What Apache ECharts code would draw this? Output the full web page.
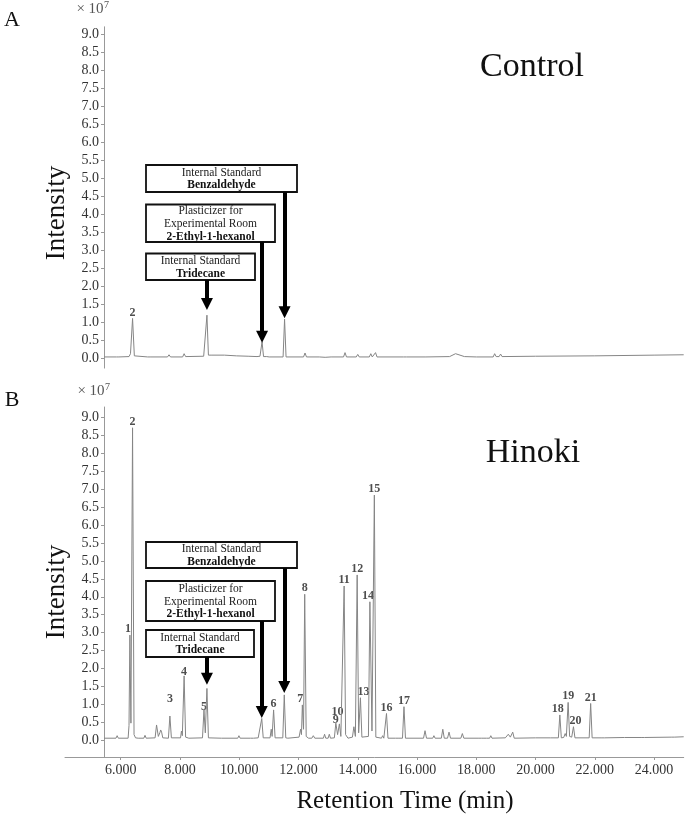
<!DOCTYPE html>
<html>
<head>
<meta charset="utf-8">
<script src="https://cdn.jsdelivr.net/npm/echarts@6/dist/echarts.min.js"></script>
<style>
  html, body { margin: 0; padding: 0; background: #fff; }
  #chart { width: 685px; height: 819px; }
</style>
</head>
<body>
<div id="chart"></div>
<script>
// tick labels (intensity in units of 10^7, retention time in min)
var yTicks = [0, 0.5, 1, 1.5, 2, 2.5, 3, 3.5, 4, 4.5, 5, 5.5, 6, 6.5, 7, 7.5, 8, 8.5, 9];
var xTicks = [6, 8, 10, 12, 14, 16, 18, 20, 22, 24];

// chromatogram: [retention time, intensity x10^7]
var controlTrace = [
  [5.44, 0.03], [5.86, 0.03], [5.9, 0.06], [5.94, 0.03], [6.28, 0.04], [6.33, 0.12], [6.40, 1.10],
  [6.46, 0.06], [6.52, 0.03], [6.91, 0.03], [6.95, 0.06], [6.99, 0.03], [7.58, 0.03], [7.63, 0.09],
  [7.68, 0.03], [8.09, 0.03], [8.14, 0.12], [8.19, 0.04], [8.8, 0.05], [8.86, 0.1], [8.91, 1.19],
  [8.96, 0.08], [9.05, 0.08], [9.5, 0.08], [9.9, 0.06], [10.3, 0.05], [10.6, 0.04], [10.65, 0.08],
  [10.7, 0.05], [10.77, 0.45], [10.82, 0.04], [10.93, 0.04], [10.97, 0.07], [11.01, 0.03],
  [11.48, 0.03], [11.53, 1.08], [11.58, 0.03], [12.17, 0.03], [12.22, 0.14], [12.27, 0.03],
  [12.7, 0.03], [12.9, 0.02], [13.1, 0.03], [13.52, 0.03], [13.57, 0.15], [13.62, 0.03],
  [13.95, 0.03], [14.0, 0.1], [14.05, 0.03], [14.39, 0.03], [14.44, 0.12], [14.49, 0.03],
  [14.55, 0.05], [14.6, 0.15], [14.65, 0.03], [15.55, 0.03], [15.6, 0.08], [15.65, 0.03],
  [16.3, 0.03], [17.1, 0.04], [17.3, 0.12], [17.6, 0.04], [18.0, 0.03], [18.57, 0.03],
  [18.62, 0.12], [18.67, 0.04], [18.77, 0.04], [18.82, 0.11], [18.87, 0.04], [20.0, 0.05],
  [22.0, 0.06], [24.0, 0.08], [25.0, 0.09]
];

var hinokiTrace = [
  [5.44, 0.05], [5.84, 0.05], [5.88, 0.12], [5.92, 0.05], [6.25, 0.05], [6.28, 0.4], [6.31, 2.93],
  [6.345, 0.47], [6.40, 8.72], [6.45, 0.15], [6.5, 0.06], [6.53, 0.05], [6.56, 0.1], [6.59, 0.05],
  [6.78, 0.05], [6.82, 0.13], [6.86, 0.05], [7.16, 0.06], [7.21, 0.42], [7.27, 0.1], [7.32, 0.2],
  [7.35, 0.28], [7.38, 0.22], [7.42, 0.06], [7.61, 0.05], [7.66, 0.67], [7.71, 0.06], [8.02, 0.06],
  [8.05, 0.25], [8.08, 0.12], [8.14, 1.79], [8.19, 0.08], [8.25, 0.1], [8.3, 0.05], [8.76, 0.06],
  [8.81, 0.84], [8.855, 0.2], [8.91, 1.44], [8.96, 0.06], [9.4, 0.05], [9.95, 0.05], [9.99, 0.12],
  [10.03, 0.05], [10.38, 0.05], [10.43, 0.1], [10.48, 0.05], [10.64, 0.06], [10.68, 0.1],
  [10.76, 0.6], [10.81, 0.06], [11.04, 0.06], [11.08, 0.3], [11.11, 0.1], [11.16, 0.84],
  [11.21, 0.06], [11.47, 0.06], [11.52, 1.26], [11.57, 0.06], [11.6, 0.1], [11.64, 0.05],
  [12.02, 0.08], [12.07, 0.3], [12.1, 0.15], [12.13, 0.98], [12.17, 0.3], [12.21, 4.07],
  [12.26, 0.1], [12.3, 0.12], [12.34, 0.05], [12.4, 0.1], [12.45, 0.05], [12.5, 0.12], [12.55, 0.05],
  [12.84, 0.05], [12.88, 0.16], [12.92, 0.05], [13.0, 0.05], [13.04, 0.16], [13.08, 0.05],
  [13.21, 0.06], [13.26, 0.47], [13.32, 0.15], [13.38, 0.45], [13.43, 0.1], [13.49, 0.1],
  [13.54, 4.30], [13.59, 0.15], [13.63, 0.1], [13.67, 0.05], [13.82, 0.08], [13.87, 0.37],
  [13.92, 0.1], [13.98, 4.61], [14.03, 0.2], [14.09, 1.18], [14.14, 0.08], [14.36, 0.1],
  [14.41, 3.86], [14.48, 0.25], [14.56, 6.84], [14.61, 0.08], [14.66, 0.05], [14.8, 0.05],
  [14.84, 0.12], [14.88, 0.05], [14.92, 0.06], [14.97, 0.74], [15.02, 0.05], [15.28, 0.05],
  [15.32, 0.1], [15.36, 0.05], [15.51, 0.05], [15.56, 0.93], [15.61, 0.05], [16.22, 0.05],
  [16.27, 0.26], [16.32, 0.05], [16.53, 0.05], [16.57, 0.12], [16.61, 0.05], [16.82, 0.05],
  [16.87, 0.3], [16.92, 0.05], [17.03, 0.05], [17.08, 0.22], [17.13, 0.05], [17.48, 0.05],
  [17.53, 0.18], [17.58, 0.05], [18.09, 0.05], [18.13, 0.1], [18.17, 0.05], [18.26, 0.05],
  [18.3, 0.09], [18.34, 0.05], [18.45, 0.05], [18.49, 0.12], [18.53, 0.05], [18.98, 0.06],
  [19.08, 0.16], [19.15, 0.08], [19.23, 0.22], [19.28, 0.05], [20.0, 0.06], [20.5, 0.06],
  [20.77, 0.06], [20.82, 0.70], [20.87, 0.06], [20.95, 0.07], [21.0, 0.18], [21.04, 0.1],
  [21.1, 1.05], [21.15, 0.1], [21.22, 0.08], [21.28, 0.37], [21.33, 0.06], [21.81, 0.06],
  [21.86, 1.02], [21.91, 0.06], [22.24, 0.06], [22.28, 0.1], [22.32, 0.06], [23.0, 0.07],
  [23.59, 0.07], [23.63, 0.1], [23.67, 0.07], [24.6, 0.08], [24.64, 0.12], [24.68, 0.08], [25.0, 0.09]
];

// numbered peaks
var controlPeakIds = ['2'];
var controlPeakTimes = [6.40];
var controlPeakHeights = [1.10];

var hinokiPeakIds = ['1', '2', '3', '4', '5', '6', '7', '8', '9', '10', '11',
  '12', '13', '14', '15', '16', '17', '18', '19', '20', '21'];
var hinokiPeakTimes = [6.31, 6.40, 7.66, 8.14, 8.81, 11.16, 12.13, 12.21, 13.26, 13.38, 13.54,
  13.98, 14.09, 14.41, 14.56, 14.97, 15.56, 20.82, 21.10, 21.28, 21.86];
var hinokiPeakHeights = [2.93, 8.72, 0.67, 1.79, 0.84, 0.84, 0.98, 4.07, 0.47, 0.45, 4.30,
  4.61, 1.18, 3.86, 6.84, 0.74, 0.93, 0.70, 1.05, 0.37, 1.02];

// arrows to the standards: Tridecane, 2-Ethyl-1-hexanol, Benzaldehyde
var controlArrowTimes = [8.91, 10.77, 11.53];
var controlArrowFrom = [2.17, 3.23, 4.60];
var controlArrowTo = [1.50, 0.59, 1.27];
var hinokiArrowTimes = [8.91, 10.76, 11.52];
var hinokiArrowFrom = [2.32, 3.32, 4.80];
var hinokiArrowTo = [1.71, 0.78, 1.48];

var serif = "'Liberation Serif', 'Times New Roman', serif";
var labelNudge = { '1': [-2, 0], '3': [0, -11], '4': [0, 2], '5': [0, 3], '7': [-2, 0],
  '9': [0, 3], '10': [-2, -6], '13': [3, 0], '14': [-2, 0], '18': [-2, 0], '20': [2, 0] };

function arrows(times, from, to) {
  return times.map(function (t, i) {
    return [{ coord: [t, from[i]] }, { coord: [t, to[i]] }];
  });
}

function peakPoints(ids, times, heights) {
  return ids.map(function (id, i) {
    var p = { value: [times[i], heights[i]], name: id };
    if (labelNudge[id]) p.label = { offset: labelNudge[id] };
    return p;
  });
}

function box(x, y, w, h, text) {
  return {
    type: 'group', x: x, y: y, children: [
      { type: 'rect', shape: { x: 0, y: 0, width: w, height: h },
        style: { fill: '#fff', stroke: '#111', lineWidth: 1.8 } },
      { type: 'text', x: w / 2, y: h / 2 + 0.5,
        style: {
          text: text, align: 'center', verticalAlign: 'middle', lineHeight: 13,
          rich: {
            n: { fontFamily: serif, fontSize: 11.5, fill: '#222', lineHeight: 13 },
            b: { fontFamily: serif, fontSize: 11.5, fontWeight: 'bold', fill: '#111', lineHeight: 13 }
          }
        } }
    ]
  };
}

function txt(x, y, s, size, color, extra) {
  var o = { type: 'text', x: x, y: y,
    style: { text: s, fontFamily: serif, fontSize: size, fill: color || '#111', align: 'center', verticalAlign: 'middle' } };
  if (extra) for (var k in extra) o[k] = extra[k];
  return o;
}

var benzText = '{n|Internal Standard}\n{b|Benzaldehyde}';
var plastText = '{n|Plasticizer for}\n{n|Experimental Room}\n{b|2-Ethyl-1-hexanol}';
var triText = '{n|Internal Standard}\n{b|Tridecane}';

var axisFont = { fontFamily: serif, fontSize: 14, color: '#333' };

function yAxisOf(grid, min, max, offset) {
  return {
    type: 'value', gridIndex: grid, min: min, max: max, offset: offset,
    axisLine: { show: true, onZero: false, lineStyle: { color: '#999', width: 1 } },
    axisTick: { show: true, customValues: yTicks, length: 3, lineStyle: { color: '#999' } },
    axisLabel: Object.assign({ customValues: yTicks, margin: 5,
      formatter: function (v) { return v.toFixed(1); } }, axisFont),
    splitLine: { show: false }
  };
}

var chart = echarts.init(document.getElementById('chart'));

var peakLabel = { show: true, position: 'top', distance: 0, fontFamily: serif,
  fontSize: 12, fontWeight: 'bold', color: '#222', formatter: '{b}' };
var arrowStyle = { silent: true, symbol: ['none', 'triangle'], symbolSize: 12,
  lineStyle: { color: '#000', width: 4, type: 'solid' }, label: { show: false } };

chart.setOption({
  animation: false,
  grid: [
    { left: 104, top: 26.8, width: 579.7, height: 341.3 },
    { left: 65, top: 407, width: 618.7, height: 350 }
  ],
  xAxis: [
    { type: 'value', gridIndex: 0, min: 5.436, max: 25, show: false },
    {
      type: 'value', gridIndex: 1, min: 4.12, max: 25,
      axisLine: { onZero: false, lineStyle: { color: '#999', width: 1 } },
      axisTick: { customValues: xTicks, length: 3, lineStyle: { color: '#999' } },
      axisLabel: Object.assign({ customValues: xTicks, margin: 6,
        formatter: function (v) { return v.toFixed(3); } }, axisFont),
      splitLine: { show: false }
    }
  ],
  yAxis: [
    yAxisOf(0, -0.28, 9.2, 0),
    yAxisOf(1, -0.475, 9.3, -39)
  ],
  series: [
    {
      type: 'line', xAxisIndex: 0, yAxisIndex: 0, data: controlTrace, showSymbol: false,
      lineStyle: { color: '#858585', width: 1 },
      markLine: Object.assign({ data: arrows(controlArrowTimes, controlArrowFrom, controlArrowTo) }, arrowStyle)
    },
    {
      type: 'scatter', xAxisIndex: 0, yAxisIndex: 0, symbolSize: 0, silent: true,
      data: peakPoints(controlPeakIds, controlPeakTimes, controlPeakHeights), label: peakLabel
    },
    {
      type: 'line', xAxisIndex: 1, yAxisIndex: 1, data: hinokiTrace, showSymbol: false,
      lineStyle: { color: '#858585', width: 1 },
      markLine: Object.assign({ data: arrows(hinokiArrowTimes, hinokiArrowFrom, hinokiArrowTo) }, arrowStyle)
    },
    {
      type: 'scatter', xAxisIndex: 1, yAxisIndex: 1, symbolSize: 0, silent: true,
      data: peakPoints(hinokiPeakIds, hinokiPeakTimes, hinokiPeakHeights), label: peakLabel
    }
  ],
  graphic: [
    txt(12, 20, 'A', 22),
    txt(12, 400, 'B', 22),
    txt(90, 9, '× 10', 15, '#555'),
    txt(106.5, 5, '7', 10, '#555'),
    txt(91, 391, '× 10', 15, '#555'),
    txt(107.5, 387, '7', 10, '#555'),
    txt(57, 213, 'Intensity', 27, null, { rotation: Math.PI / 2 }),
    txt(57, 592, 'Intensity', 27, null, { rotation: Math.PI / 2 }),
    txt(532, 67, 'Control', 34),
    txt(533, 453, 'Hinoki', 34),
    txt(405, 801, 'Retention Time (min)', 25),
    box(146, 165, 151, 27, benzText),
    box(146, 204.5, 129, 37.5, plastText),
    box(146, 253.5, 109, 26.5, triText),
    box(146, 542, 151, 26, benzText),
    box(146, 581, 129, 40, plastText),
    box(146, 630, 108, 27, triText)
  ]
});
</script>
</body>
</html>
